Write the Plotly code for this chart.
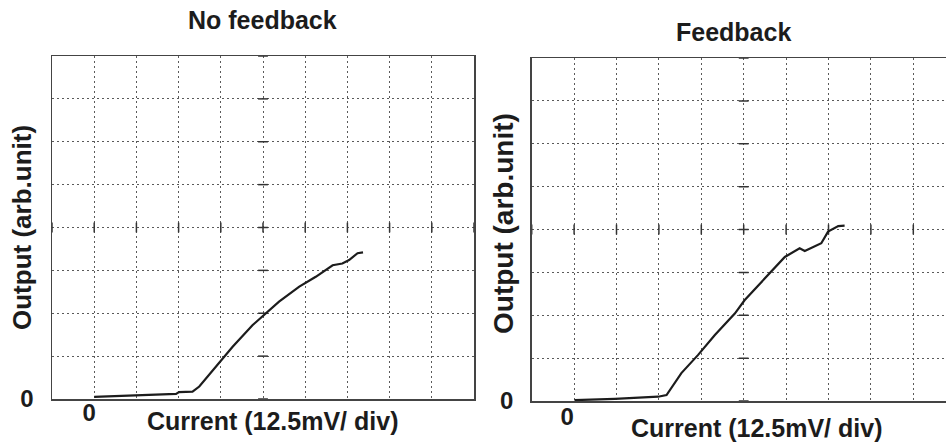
import plotly.graph_objects as go

# Data in oscilloscope divisions
left_x = [0.0, 0.91, 1.54, 1.94, 2.01, 2.33, 2.49, 2.88, 3.28, 3.75, 4.07, 4.38, 4.86, 5.25, 5.65, 5.88, 6.04, 6.24, 6.37]
left_y = [0.05, 0.08, 0.11, 0.12, 0.16, 0.17, 0.29, 0.75, 1.22, 1.72, 2.0, 2.27, 2.62, 2.85, 3.12, 3.16, 3.24, 3.40, 3.42]

right_x = [0.01, 0.96, 1.98, 2.18, 2.53, 2.92, 3.32, 3.79, 4.02, 4.50, 4.97, 5.32, 5.44, 5.83, 5.99, 6.23, 6.38]
right_y = [0.02, 0.05, 0.10, 0.14, 0.65, 1.07, 1.54, 2.04, 2.35, 2.86, 3.36, 3.56, 3.50, 3.68, 3.95, 4.08, 4.09]

x_grid = list(range(-1, 10))
y_grid = list(range(0, 9))
x_ticktext = ["<b>0</b>" if v == 0 else "" for v in x_grid]
y_ticktext = ["<b>0</b>" if v == 0 else "" for v in y_grid]

titles = ["No feedback", "Feedback"]
y_title = "Output (arb.unit)"
x_title = "Current (12.5mV/ div)"

W, H = 946, 442
FONT = "Liberation Sans, Arial, sans-serif"
INK = "#1c1c1c"
GRID = "#5a5a5a"

fig = go.Figure()

for xs, ys, xa, ya in [(left_x, left_y, "x", "y"), (right_x, right_y, "x2", "y2")]:
    # centre graticule tick marks
    fig.add_trace(go.Scatter(x=x_grid, y=[4] * len(x_grid), mode="markers", xaxis=xa, yaxis=ya,
                             marker=dict(symbol="line-ns", size=7, line=dict(color="#333", width=1.5)),
                             hoverinfo="skip", showlegend=False))
    fig.add_trace(go.Scatter(x=[4] * len(y_grid), y=y_grid, mode="markers", xaxis=xa, yaxis=ya,
                             marker=dict(symbol="line-ew", size=7, line=dict(color="#333", width=1.5)),
                             hoverinfo="skip", showlegend=False))
    fig.add_trace(go.Scatter(x=xs, y=ys, mode="lines", xaxis=xa, yaxis=ya,
                             line=dict(color=INK, width=2.2), showlegend=False))


def px_x(p):
    return p / W


def px_y(p):
    return 1 - p / H


axis_common = dict(showgrid=True, gridcolor=GRID, gridwidth=1, griddash="2px,3px",
                   zeroline=False, ticks="", showline=True, linecolor="#444", linewidth=1.5,
                   automargin=False,
                   tickfont=dict(family=FONT, size=24, color=INK), fixedrange=True)

x_right_end = -1 + (W - 531.7) / 42.4

fig.update_layout(
    width=W, height=H,
    margin=dict(l=0, r=0, t=0, b=0, autoexpand=False),
    paper_bgcolor="white", plot_bgcolor="white",
    xaxis=dict(domain=[px_x(52), px_x(474)], range=[-1, 9], tickvals=x_grid, ticktext=x_ticktext,
               mirror=True, anchor="y", ticklabelstandoff=-8, ticklabelshift=-5, **axis_common),
    yaxis=dict(domain=[px_y(399), px_y(56)], range=[0, 8], tickvals=y_grid, ticktext=y_ticktext,
               mirror=True, anchor="x", ticklabelstandoff=12, **axis_common),
    xaxis2=dict(domain=[px_x(531.7), 1.0], range=[-1, x_right_end], tickvals=x_grid, ticktext=x_ticktext,
                mirror=True, anchor="y2", ticklabelstandoff=-6, ticklabelshift=-7, **axis_common),
    yaxis2=dict(domain=[px_y(401), px_y(58)], range=[0, 8], tickvals=y_grid, ticktext=y_ticktext,
                mirror=False, anchor="x2", ticklabelstandoff=12, **axis_common),
)

ann = [
    dict(text=titles[0], x=px_x(262), y=px_y(20), size=25, angle=0),
    dict(text=titles[1], x=px_x(733), y=px_y(32), size=25, angle=0),
    dict(text=y_title, x=px_x(22), y=px_y(228), size=26, angle=-90),
    dict(text=y_title, x=px_x(503), y=px_y(224), size=28, angle=-90),
    dict(text=x_title, x=px_x(272), y=px_y(421), size=25, angle=0),
    dict(text=x_title, x=px_x(756), y=px_y(428), size=25, angle=0),
]
for a in ann:
    fig.add_annotation(text="<b>" + a["text"] + "</b>", x=a["x"], y=a["y"], xref="paper", yref="paper",
                       xanchor="center", yanchor="middle", showarrow=False, textangle=a["angle"],
                       font=dict(family=FONT, size=a["size"], color=INK))

fig.write_html("out.html", config={"displayModeBar": False, "staticPlot": True},
               post_script="document.body.style.margin='0';document.body.style.overflow='hidden';")
